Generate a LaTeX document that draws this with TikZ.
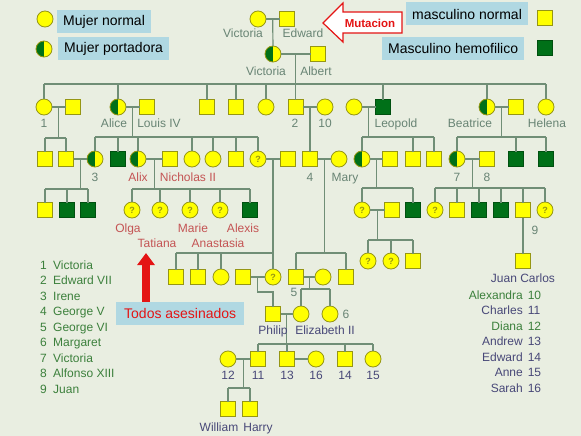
\documentclass[tikz,border=0pt]{standalone}
\usepackage{fontspec}
\setmainfont{Liberation Sans}
\usetikzlibrary{arrows.meta, positioning}

\definecolor{bgc}{RGB}{233,238,225}
\definecolor{linec}{RGB}{112,142,118}
\definecolor{yel}{RGB}{255,255,0}
\definecolor{yelrim}{RGB}{150,150,20}
\definecolor{hemog}{RGB}{0,112,24}
\definecolor{hemorim}{RGB}{0,80,16}
\definecolor{boxc}{RGB}{176,216,226}
\definecolor{labc}{RGB}{104,132,116}
\definecolor{redc}{RGB}{196,84,84}
\definecolor{bluec}{RGB}{72,72,120}
\definecolor{listg}{RGB}{60,128,60}
\definecolor{alarm}{RGB}{228,20,20}

\begin{document}
\begin{tikzpicture}[
	x=1pt, y=-1pt,
	link/.style = {draw=linec, line width=1.2pt},
	person/.style = {draw=yelrim, line width=0.8pt, fill=yel, inner sep=0pt, outer sep=0pt},
	fem/.style = {person, circle, minimum size=16pt},
	male/.style = {person, rectangle, minimum size=15pt},
	hemo/.style = {male, fill=hemog, draw=hemorim},
	carrier/.style = {fem, path picture={\fill[hemog] (path picture bounding box.south west) rectangle (path picture bounding box.north);}},
	unknown/.style = {fem, text=yelrim, font=\fontsize{9}{9}\selectfont\bfseries},
	lab/.style = {anchor=base, inner sep=0pt, font=\fontsize{12}{12}\selectfont},
	legend box/.style = {fill=boxc, inner xsep=6pt, minimum height=23pt, font=\fontsize{14}{14}\selectfont, anchor=west},
	kill arrow/.style = {draw=alarm, line width=8pt, -{Triangle[width=17pt, length=12pt]}}
]

\path[use as bounding box, fill=bgc] (0,0) rectangle (581,436);

\node[fem] (vicA) at (258,19) {};
\node[male] (edward) at (287,19) {};

\node[carrier] (vicQ) at (273,54) {};
\node[male] (albert) at (318,54) {};

\node[fem] (vic1) at (44,107) {};
\node[male] (fritz) at (73,107) {};
\node[carrier] (alice) at (118,107) {};
\node[male] (louis) at (147,107) {};
\node[male] (alfred) at (207,107) {};
\node[male] (arthur) at (236,107) {};
\node[fem] (louise) at (266,107) {};
\node[male] (edw7) at (295.5,107) {};
\node[fem] (alexandra) at (325,107) {};
\node[fem] (helenaW) at (354,107) {};
\node[hemo] (leopold) at (383,107) {};
\node[carrier] (beatrice) at (487,107) {};
\node[male] (henryB) at (516,107) {};
\node[fem] (helena) at (546,107) {};

\node[male] (wilhelm) at (45,159) {};
\node[male] (henryP) at (66,159) {};
\node[carrier] (irene) at (95,159) {};
\node[hemo] (fritzH) at (118,159) {};
\node[carrier] (alix) at (138,159) {};
\node[male] (nicholas) at (170,159) {};
\node[fem] (ella) at (192,159) {};
\node[fem] (marieH) at (213,159) {};
\node[male] (ernst) at (236,159) {};
\node[unknown] (vicH) at (258,159) {?};
\node[male] (louisB) at (287.5,159) {};
\node[male] (george5) at (310,159) {};
\node[fem] (mary) at (339,159) {};
\node[carrier] (aliceA) at (362,159) {};
\node[male] (alexT) at (390,159) {};
\node[male] (charlesE) at (413,159) {};
\node[male] (sqL) at (434,159) {};
\node[carrier] (ena) at (457,159) {};
\node[male] (alfonso) at (487,159) {};
\node[hemo] (leoB) at (516,159) {};
\node[hemo] (maurice) at (546,159) {};

\node[male] (irene1) at (45,210) {};
\node[hemo] (irene2) at (67,210) {};
\node[hemo] (irene3) at (88,210) {};
\node[unknown] (olga) at (132,210) {?};
\node[unknown] (tatiana) at (160,210) {?};
\node[unknown] (mariaN) at (190,210) {?};
\node[unknown] (anastasia) at (220,210) {?};
\node[hemo] (alexis) at (250,210) {};
\node[unknown] (may) at (362,210) {?};
\node[male] (mayH) at (392,210) {};
\node[hemo] (rupert) at (413,210) {};
\node[unknown] (ena1) at (435,210) {?};
\node[male] (ena2) at (457,210) {};
\node[hemo] (ena3) at (479,210) {};
\node[hemo] (ena4) at (501,210) {};
\node[male] (juan) at (523,210) {};
\node[unknown] (ena6) at (545,210) {?};

\node[unknown] (may1) at (368,261) {?};
\node[unknown] (may2) at (391,261) {?};
\node[male] (may3) at (413,261) {};
\node[male] (juanC) at (523,261) {};

\node[male] (bat1) at (176,277) {};
\node[male] (bat2) at (198,277) {};
\node[fem] (bat3) at (221,277) {};
\node[male] (andrewG) at (243,277) {};
\node[unknown] (aliceB) at (273,277) {?};
\node[male] (george6) at (296,277) {};
\node[fem] (queenM) at (323,277) {};
\node[male] (henryG) at (346,277) {};

\node[male] (philip) at (273,314) {};
\node[fem] (eliz) at (301,314) {};
\node[fem] (margaret) at (330,314) {};

\node[fem] (diana) at (228,359) {};
\node[male] (charles) at (258,359) {};
\node[male] (andrew) at (287,359) {};
\node[fem] (sarah) at (316,359) {};
\node[male] (edwardW) at (345,359) {};
\node[fem] (anne) at (373,359) {};

\node[male] (william) at (228,409) {};
\node[male] (harry) at (250,409) {};

\foreach \a/\b/\m in {vicA/edward/m0, vicQ/albert/m1, vic1/fritz/m2, alice/louis/m3,
	edw7/alexandra/m4, helenaW/leopold/m5, beatrice/henryB/m6, henryP/irene/m7,
	alix/nicholas/m8, vicH/louisB/m9, george5/mary/m10, aliceA/alexT/m11,
	ena/alfonso/m12, may/mayH/m13, andrewG/aliceB/m15, george6/queenM/m16,
	philip/eliz/m17, diana/charles/m18, andrew/sarah/m19}
	\draw[link] (\a) -- (\b) coordinate[midway] (\m);

\foreach \m/\s/\a/\b/\kids in {
	m1/84/vic1/helena/{vic1,alice,alfred,arthur,louise,edw7,leopold,beatrice,helena},
	m2/138/wilhelm/henryP/{wilhelm,henryP},
	m3/137/irene/vicH/{irene,fritzH,alix,ella,marieH,ernst,vicH},
	m5/137/aliceA/sqL/{aliceA,charlesE,sqL},
	m6/137/ena/maurice/{ena,leoB,maurice},
	m7/189/irene1/irene3/{irene1,irene2,irene3},
	m8/189/olga/alexis/{olga,tatiana,mariaN,anastasia,alexis},
	m9/253/bat1/aliceB/{bat1,bat2,bat3,aliceB},
	m10/253/george6/henryG/{george6,henryG},
	m11/188/may/rupert/{may,rupert},
	m12/188/ena1/ena6/{ena1,ena2,ena3,ena4,juan,ena6},
	m13/240/may1/may3/{may1,may2,may3},
	m16/289/eliz/margaret/{eliz,margaret},
	m17/344/charles/anne/{charles,andrew,edwardW,anne},
	m18/388/william/harry/{william,harry}}{
	\coordinate (sib) at (0,\s);
	\draw[link] (\m) -- (\m |- sib) (\a |- sib) -- (\b |- sib);
	\foreach \k in \kids
		\draw[link] (\k |- sib) -- (\k);
}

\draw[link] (m0) -- (vicQ);
\draw[link] (m4) -- (george5);
\draw[link] (juan) -- (juanC);
\coordinate (phs) at (0,292);
\draw[link] (m15) -- (m15 |- phs) -| (philip);

\foreach \x/\y/\t [count=\i] in {243/38/Victoria, 303/38/Edward, 266/76/Victoria, 316/76/Albert,
	44/127/1, 114/127/Alice, 159/127/Louis IV, 295/127/2, 325/127/10, 396/127/Leopold,
	470/127/Beatrice, 547/127/Helena, 95/181/3, 310/181/4, 345/181/Mary, 457/181/7,
	487/181/8, 535/234/9, 294/296/5, 346/318/6}
	\node[lab, text=labc] (gl\i) at (\x,\y) {\t};

\foreach \x/\y/\t [count=\i] in {138/181/Alix, 188/181/Nicholas II, 128/232/Olga, 193/232/Marie,
	243/232/Alexis, 157/247/Tatiana, 218/247/Anastasia}
	\node[lab, text=redc] (rl\i) at (\x,\y) {\t};

\foreach \x/\y/\t [count=\i] in {273/334/Philip, 325/334/Elizabeth II, 228/379/12, 258/379/11,
	287/379/13, 316/379/16, 345/379/14, 373/379/15, 219/431/William, 258/431/Harry,
	523/282/Juan Carlos}
	\node[lab, text=bluec] (bl\i) at (\x,\y) {\t};

\foreach \n/\t [count=\i] in {1/Victoria, 2/Edward VII, 3/Irene, 4/George V, 5/George VI,
	6/Margaret, 7/Victoria, 8/Alfonso XIII, 9/Juan}
	\node[lab, anchor=base west, text=listg] (king\i) at (40,{269+15.5*(\i-1)}) {\makebox[13pt][l]{\n}\t};

\foreach \t/\n/\c [count=\i] in {Alexandra/10/listg, Charles/11/bluec, Diana/12/listg,
	Andrew/13/bluec, Edward/14/bluec, Anne/15/bluec, Sarah/16/bluec}
	\node[lab, anchor=base east, text=\c] (wed\i) at (542,{299+15.5*(\i-1)}) {\t\hspace{5pt}\makebox[14pt][l]{\n}};

\node[fem] (keyFem) at (45,19) {};
\node[legend box] (keyFemTxt) at (57,21.5) {Mujer normal};
\node[carrier] (keyCar) at (44,49) {};
\node[legend box] (keyCarTxt) at (58,48.5) {Mujer portadora};
\node[legend box] (keyMaleTxt) at (406,14) {masculino normal};
\node[male] (keyMale) at (545,18) {};
\node[legend box] (keyHemoTxt) at (382,48.5) {Masculino hemofilico};
\node[hemo] (keyHemo) at (545,48) {};

\draw[alarm, line width=1.2pt, fill=white] (323,23) -- (343,3) -- (343,12) -- (402,12) -- (402,33) -- (343,33) -- (343,42) -- cycle;
\node[text=alarm, font=\fontsize{11.5}{11.5}\selectfont\bfseries] (mutacion) at (370,23) {Mutacion};

\node[legend box, text=alarm, inner xsep=8pt] (todos) at (116,313.5) {Todos asesinados};
\coordinate (victims) at (146,253);
\draw[kill arrow] (todos.north -| victims) -- (victims);

\end{tikzpicture}
\end{document}
